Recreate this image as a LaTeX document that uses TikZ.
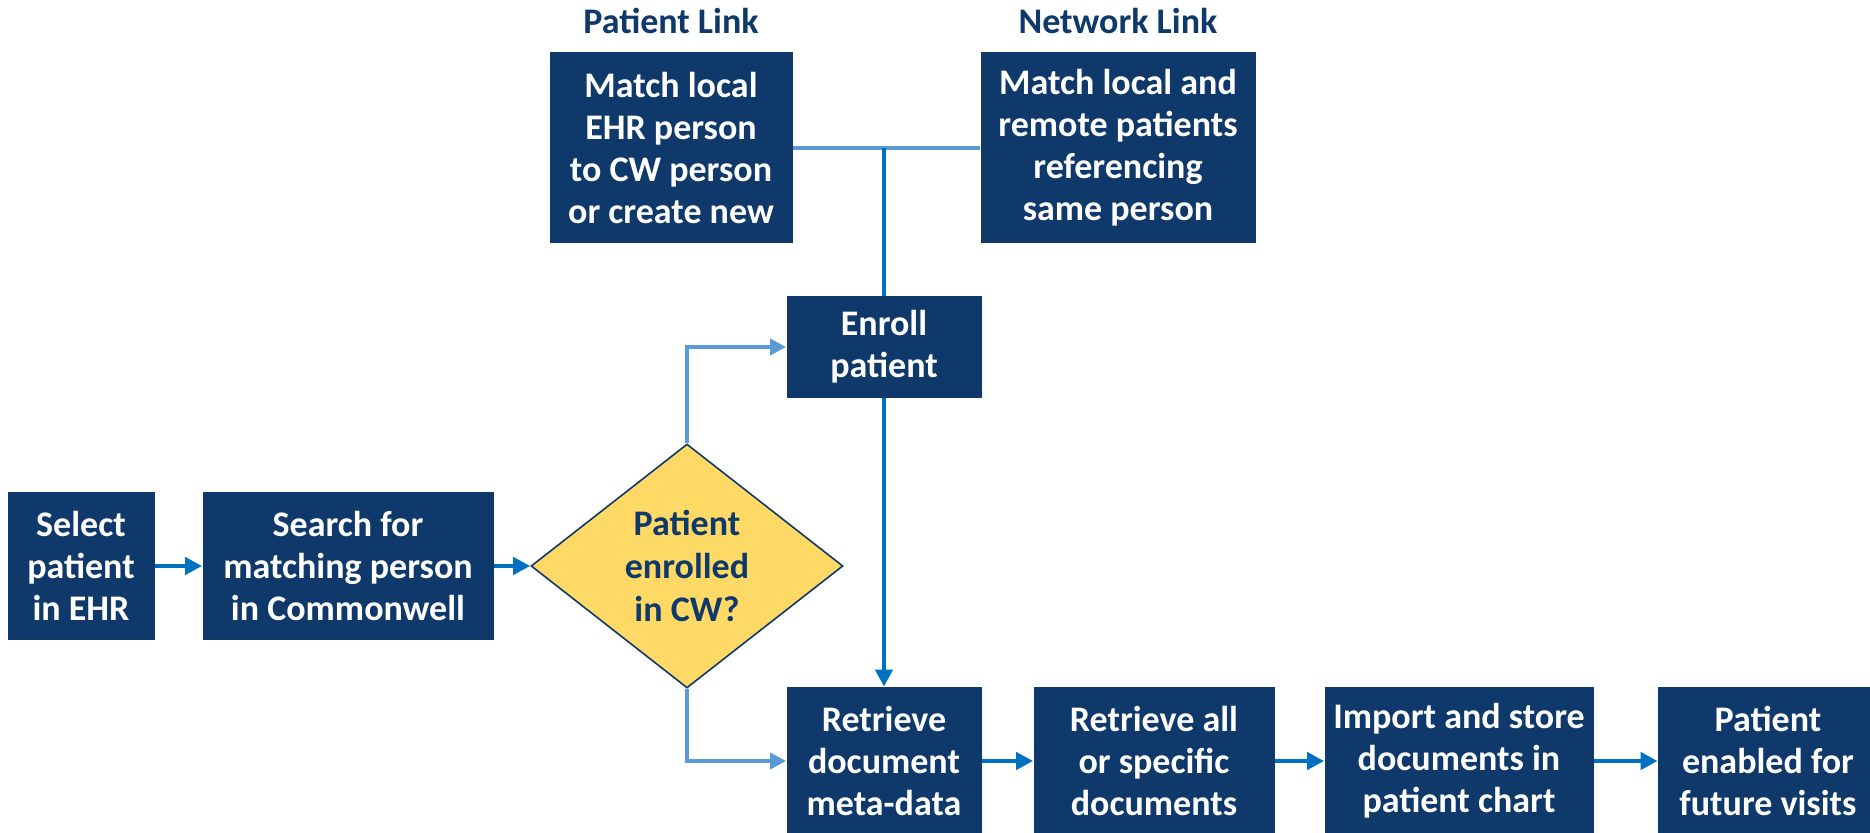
\documentclass[tikz,border=0pt]{standalone}
\usepackage{fontspec}
\setmainfont{Carlito}
\usepackage{tikz}
\usetikzlibrary{arrows.meta,shapes.geometric,positioning}
\definecolor{azulMarino}{RGB}{14, 57, 106}
\definecolor{azulMedio}{RGB}{0, 112, 192}
\definecolor{azulClaro}{RGB}{91, 155, 213}
\definecolor{amarilloSuave}{RGB}{255, 217, 102}
\tikzstyle{box}   =[rectangle, fill=azulMarino, text=white,
                    align=center, inner sep=0pt,
                    font=\bfseries\fontsize{18}{21}\selectfont]
\tikzstyle{decision}=[diamond, draw=azulMarino, fill=amarilloSuave,
                    line width=0.8pt, text=azulMarino, align=center,
                    inner sep=0pt, minimum width=156pt, minimum height=122pt,
                    font=\bfseries\fontsize{18}{21.5}\selectfont]
\tikzstyle{title} =[text=azulMarino,
                    font=\bfseries\fontsize{18}{21}\selectfont]
\tikzstyle{flow}  =[-{Triangle[length=8.5pt,width=8.5pt]},
                    line width=2.2pt, azulMedio]
\tikzstyle{branch}=[line width=1.8pt, azulClaro]

\begin{document}
\begin{tikzpicture}[x=0.5pt,y=-0.5pt]

        \useasboundingbox (0,0) rectangle (1870,833);

        % top row
        \node (plinkT)[title] at (671,21) {Patient Link};
        \node (nlinkT)[title] at (1118,21) {Network Link};
        \node (plink)[box, minimum width=121.5pt, minimum height=95.5pt]
            at (671,148) {Match local\\EHR person\\to CW person\\or create new};
        \node (nlink)[box, minimum width=137.5pt, minimum height=95.5pt]
            at (1118,148) {Match local and\\remote patients\\referencing\\same person};

        % middle
        \node (enr)[box, minimum width=97.5pt, minimum height=51pt]
            at (884,347) {Enroll\\patient};
        \node (sel)[box, minimum width=73.5pt, minimum height=74pt]
            at (81,566) {Select\\patient\\in EHR};
        \node (srch)[box, minimum width=145.5pt, minimum height=74pt]
            at (348,566) {Search for\\matching person\\in Commonwell};
        \node (dec)[decision] at (687,566) {Patient\\enrolled\\in CW?};

        % bottom row
        \node (ret1)[box, minimum width=97.5pt, minimum height=74pt]
            at (884,761) {Retrieve\\document\\meta-data};
        \node (ret2)[box, minimum width=120.5pt, minimum height=74pt]
            at (1154,761) {Retrieve all\\or specific\\documents};
        \node (imp)[box, minimum width=134.5pt, minimum height=74pt]
            at (1459,761) {Import and store\\documents in\\patient chart};
        \node (fut)[box, minimum width=110pt, minimum height=74pt]
            at (1768,761) {Patient\\enabled for\\future visits};

        \coordinate (jn) at (enr.north |- plink.east);

        \draw [branch] (plink) -- (nlink);
        \draw [flow,-] (jn) -- (enr);

        \draw [branch,-{Triangle[length=8pt,width=8pt]}] (dec.north) |- (enr.west);
        \draw [branch,-{Triangle[length=8pt,width=8pt]}] (dec.south) |- (ret1.west);

        \foreach \i/\j in {sel/srch,srch/dec,enr/ret1,ret1/ret2,ret2/imp,imp/fut}
            \draw [flow] (\i) -- (\j);

    \end{tikzpicture}
\end{document}
